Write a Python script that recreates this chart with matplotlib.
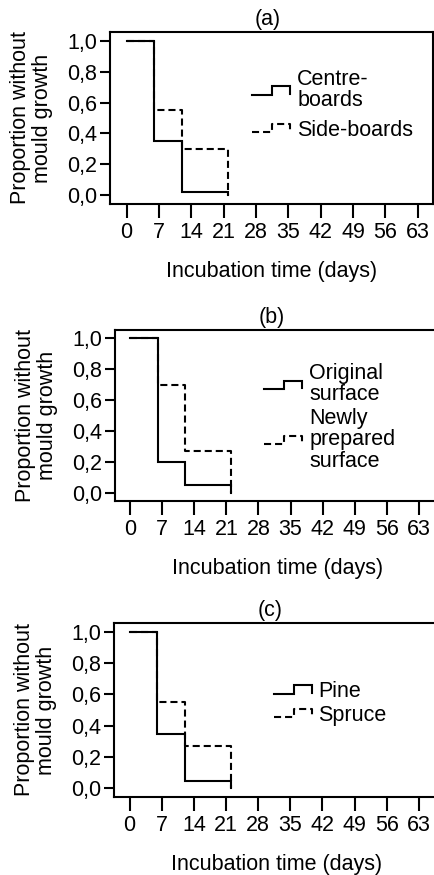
import matplotlib
matplotlib.use("Agg")
import matplotlib.pyplot as plt
from matplotlib.lines import Line2D
from matplotlib.legend_handler import HandlerBase

plt.rcParams['font.family'] = ['Liberation Sans', 'DejaVu Sans']

# ---- data ----
times = [0, 6, 12, 22]
centre_boards = [1.0, 0.35, 0.02, 0.0]
side_boards = [1.0, 0.55, 0.30, 0.0]
original_surface = [1.0, 0.20, 0.05, 0.0]
newly_prepared = [1.0, 0.70, 0.27, 0.0]
pine = [1.0, 0.35, 0.05, 0.0]
spruce = [1.0, 0.55, 0.27, 0.0]

x_ticks = [0, 7, 14, 21, 28, 35, 42, 49, 56, 63]
y_ticks = [0.0, 0.2, 0.4, 0.6, 0.8, 1.0]
y_tick_labels = ['0,0', '0,2', '0,4', '0,6', '0,8', '1,0']
panel_titles = ['(a)', '(b)', '(c)']
legend_labels = [['Centre-\nboards', 'Side-boards'],
                 ['Original\nsurface', 'Newly\nprepared\nsurface'],
                 ['Pine', 'Spruce']]
series = [(centre_boards, side_boards),
          (original_surface, newly_prepared),
          (pine, spruce)]

FS = 15.5
LW = 1.5
DASH = (0, (3.4, 1.9))

W, H = 434, 875
fig = plt.figure(figsize=(W / 100, H / 100), dpi=100)


def fr(l, t, r, b):
    return [l / W, 1 - b / H, (r - l) / W, (b - t) / H]


axes_px = [(110, 32, 433, 204), (115, 330, 440, 501), (114, 623, 440, 797)]
xlims = [(-3.6, 66.3), (-3.3, 67.6), (-3.4, 67.6)]
title_x = [0.489, 0.483, 0.479]
legend_anchor = [(252, 69), (264, 363), (274, 681)]
legend_spacing = [0.4, 0.1, 0.12]
legend_linesp = [1.0, 1.03, 1.0]
legend_tpad = [0.33, 0.33, 0.28]


class StepHandler(HandlerBase):
    def create_artists(self, legend, orig_handle, xdescent, ydescent,
                       width, height, fontsize, trans):
        yc = height / 2 - ydescent
        h = 3.0
        x0 = -xdescent
        xs = [x0, x0 + 0.53 * width, x0 + 0.53 * width, x0 + width, x0 + width]
        ys = [yc - h, yc - h, yc + h, yc + h, yc - 0.8 * h]
        ln = Line2D(xs, ys, color='black', lw=orig_handle.get_linewidth(),
                    linestyle='-', solid_joinstyle='miter',
                    dash_capstyle='butt')
        if orig_handle.get_linestyle() != '-':
            ln.set_linestyle(DASH)
        ln.set_transform(trans)
        return [ln]


for i, ax_px in enumerate(axes_px):
    ax = fig.add_axes(fr(*ax_px))
    s1, s2 = series[i]
    ax.step(times, s2, where='post', color='black', lw=LW, linestyle=DASH,
            zorder=2, dash_capstyle='butt')
    ax.step(times, s1, where='post', color='black', lw=LW, linestyle='-',
            zorder=3, solid_joinstyle='miter')
    ax.set_xlim(*xlims[i])
    ax.set_ylim(-0.055, 1.055)
    ax.set_xticks(x_ticks)
    ax.set_xticklabels([str(t) for t in x_ticks])
    ax.set_yticks(y_ticks)
    ax.set_yticklabels(y_tick_labels)
    for sp in ax.spines.values():
        sp.set_linewidth(1.5)
    ax.tick_params(axis='x', direction='out', length=10, width=1.5,
                   pad=3.2, labelsize=FS)
    ax.tick_params(axis='y', direction='out', length=7.5, width=1.5,
                   pad=2, labelsize=FS)
    ax.set_title(panel_titles[i], fontsize=FS, pad=5, x=title_x[i])
    ax.set_xlabel('Incubation time (days)', fontsize=FS, labelpad=13)
    ax.set_ylabel('Proportion without\nmould growth', fontsize=FS,
                  labelpad=10, linespacing=1.05)

    proxies = [Line2D([], [], color='black', lw=LW, linestyle='-'),
               Line2D([], [], color='black', lw=LW, linestyle='--')]
    lx, ly = legend_anchor[i]
    leg = ax.legend(proxies, legend_labels[i], loc='upper left',
                    bbox_to_anchor=(lx / W, 1 - ly / H),
                    bbox_transform=fig.transFigure, frameon=False,
                    borderpad=0, borderaxespad=0, fontsize=FS,
                    handlelength=38 / 21.5, handletextpad=legend_tpad[i],
                    labelspacing=legend_spacing[i],
                    handler_map={Line2D: StepHandler()})
    for t in leg.get_texts():
        t.set_linespacing(legend_linesp[i])

fig.savefig('out.png', dpi=100)
